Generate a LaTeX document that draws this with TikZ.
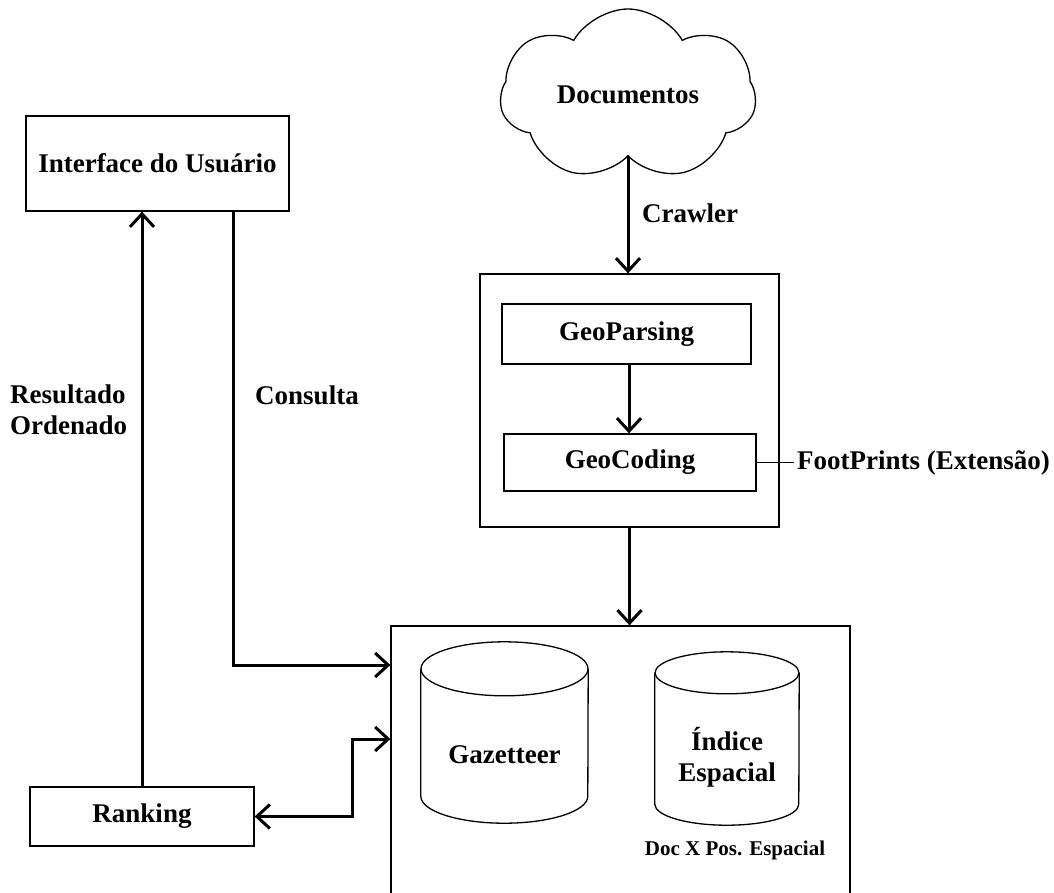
\documentclass[tikz,border=0pt]{standalone}
\usepackage{fontspec}
\setmainfont{Liberation Serif}
\usetikzlibrary{shapes.geometric, shapes.symbols, arrows.meta, positioning}

\tikzset{
  box/.style={draw, line width=1.3pt, inner sep=0pt, font=\fontsize{27}{31}\selectfont\bfseries},
  dbbox/.style={rectangle, inner sep=0pt},
  flow/.style={line width=3pt, -{Straight Barb[length=13pt, width=24pt, line width=3pt]}},
  lbl/.style={font=\fontsize{27}{31}\selectfont\bfseries, inner sep=0pt},
}
% cilindro: #1 no, #2 raio x, #3 raio y
\newcommand{\dbcyl}[3]{%
  \draw[line width=1.3pt] ([yshift=-#3]#1.north west) -- ([yshift=#3]#1.south west)
     arc[start angle=180, end angle=360, x radius=#2, y radius=#3]
     -- ([yshift=-#3]#1.north east);
  \draw[line width=1.3pt] ([yshift=-#3]#1.north) ellipse[x radius=#2, y radius=#3];}

\begin{document}
\begin{tikzpicture}[x=1pt, y=-1pt]
    \useasboundingbox (0,0) rectangle (1054,892);

    % coleta e processamento
    \node[cloud, draw, line width=1.3pt, cloud puffs=7, cloud puff arc=120, aspect=1.5,
          minimum width=256pt, minimum height=172pt, inner sep=0pt, lbl] (docs) at (628,95) {Documentos};
    \node[box, minimum width=299pt, minimum height=253pt] (proc) at (629.5,400.5) {};
    \node[box, minimum width=249pt, minimum height=60pt] (parse) at (626.5,334) {GeoParsing};
    \node[box, minimum width=252pt, minimum height=57pt] (code) at (630,462.5) {GeoCoding};
    \coordinate (fpend) at (794,462.5);
    \node[lbl, anchor=west] (fp) at (797,462.5) {FootPrints (Extensão)};

    % armazenamento
    \node[box, minimum width=459pt, minimum height=290pt] (store) at (620.5,771) {};
    \node[dbbox, minimum width=167pt, minimum height=181pt,
          label={[lbl, yshift=-22pt]center:Gazetteer}] (gaz) at (504.5,732.5) {};
    \dbcyl{gaz}{83.5pt}{27pt}
    \node[dbbox, minimum width=144pt, minimum height=173pt,
          label={[lbl, yshift=-19pt, align=center]center:Índice\\Espacial}] (idx) at (727,738.5) {};
    \dbcyl{idx}{72pt}{21pt}
    \node[lbl, font=\fontsize{21}{24}\selectfont\bfseries] (docpos) at (735,850) {Doc X Pos. Espacial};

    % usuario
    \node[box, minimum width=263pt, minimum height=95pt] (ui) at (157.5,163.5) {Interface do Usuário};
    \node[box, minimum width=224pt, minimum height=59pt] (rank) at (142,816.5) {Ranking};

    \draw[flow] (docs.south) -- (proc.north -| docs.south);
    \node[lbl, anchor=west] (crawl) at (642,213) {Crawler};
    \draw[flow] (parse.south -| 629,0) -- (code.north -| 629,0);
    \draw[line width=1.3pt] (code.east) -- (fpend);
    \draw[flow] (proc.south) -- (store.north -| proc.south);

    \draw[flow] (ui.south -| 233,0) |- (store.west |- 0,665);
    \node[lbl] (cons) at (307,395) {Consulta};
    \draw[flow] (rank.north) -- (ui.south -| rank.north);
    \node[lbl, align=left, anchor=west] (res) at (10,410) {Resultado\\Ordenado};
    \draw[line width=3pt, {Straight Barb[length=13pt, width=24pt, line width=3pt]}-{Straight Barb[length=13pt, width=24pt, line width=3pt]}]
        (rank.east) -- (352,816.5) |- (store.west |- 0,739);
\end{tikzpicture}
\end{document}
